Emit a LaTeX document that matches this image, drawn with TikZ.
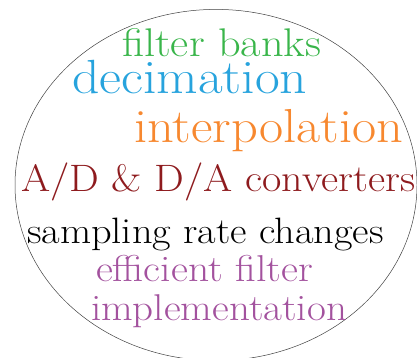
\documentclass[tikz,border=0pt]{standalone}
\usepackage{tikz}
\usepackage{graphicx}

\definecolor{cgreen}{HTML}{39B54A}
\definecolor{cblue}{HTML}{27A3DD}
\definecolor{corange}{HTML}{F7882F}
\definecolor{cred}{HTML}{8E1B1E}
\definecolor{cpurple}{HTML}{A3529E}

\newcommand{\widetext}[2]{\scalebox{#1}[1]{#2}}

\tikzset{
  word/.style={anchor=base west, inner sep=0pt, outer sep=0pt},
  fs/.style={font=\fontsize{#1}{#1}\selectfont}
}

\begin{document}
\begin{tikzpicture}[x=1pt,y=-1pt]
  \useasboundingbox (0,0) rectangle (417,358);
  \clip (0,0) rectangle (417,358);
  % enclosing ellipse
  \draw[black!75, line width=0.5pt] (216,185) ellipse [x radius=201, y radius=175.6];
  % topic words
  \node[word, fs=40, text=cgreen]    (banks)  at (122,57)  {\widetext{1.11}{filter banks}};
  \node[word, fs=48, text=cblue]     (decim)  at (72,94)   {\widetext{1.12}{decimation}};
  \node[word, fs=47.7, text=corange] (interp) at (134,143) {\widetext{1.10}{interpolation}};
  \node[word, fs=38.2, text=cred]    (adda)   at (21,191)  {\widetext{1.10}{A/D \& D/A converters}};
  \node[word, fs=36.7, text=black]   (rate)   at (27,243)  {\widetext{1.10}{sampling rate changes}};
  \node[word, fs=37.4, text=cpurple] (eff)    at (96,281)  {\widetext{1.11}{efficient filter}};
  \node[word, fs=37.3, text=cpurple] (impl)   at (91,320)  {\widetext{1.10}{implementation}};
\end{tikzpicture}
\end{document}
